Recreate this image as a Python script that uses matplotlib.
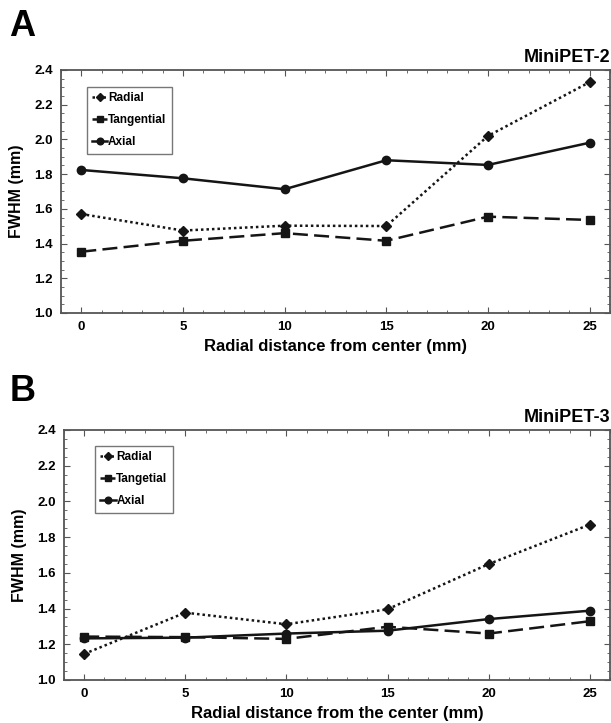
import numpy as np
import matplotlib
matplotlib.use("Agg")
import matplotlib.pyplot as plt
from matplotlib.ticker import MultipleLocator

plt.rcParams['font.family'] = ['Liberation Sans', 'DejaVu Sans']
plt.rcParams['font.weight'] = 'bold'

# radial distance (mm)
dist = [0, 5, 10, 15, 20, 25]

# MiniPET-2
radial2 = [1.57, 1.475, 1.503, 1.501, 2.02, 2.33]
tang2 = [1.353, 1.416, 1.46, 1.416, 1.555, 1.536]
axial2 = [1.824, 1.776, 1.713, 1.88, 1.853, 1.981]

# MiniPET-3
radial3 = [1.146, 1.377, 1.312, 1.396, 1.649, 1.87]
tang3 = [1.243, 1.24, 1.23, 1.298, 1.26, 1.329]
axial3 = [1.233, 1.237, 1.26, 1.276, 1.341, 1.388]

col = '#151515'

fig = plt.figure(figsize=(6.11, 7.23), dpi=100)
axA = fig.add_axes([0.0998, 0.5671, 0.8985, 0.3361])
axB = fig.add_axes([0.1047, 0.0595, 0.8936, 0.3458])


def panel(ax, r, t, a, tname, title, xlab, leg_anchor):
    ax.plot(dist, r, ls=(0, (1, 1.2)), lw=1.8, color=col, marker='D', ms=5, label='Radial')
    ax.plot(dist, t, ls=(0, (6, 2.5)), lw=1.8, color=col, marker='s', ms=6, label=tname)
    ax.plot(dist, a, ls='-', lw=1.8, color=col, marker='o', ms=6, label='Axial')
    ax.set_xlim(-1, 26)
    ax.set_ylim(1.0, 2.4)
    ax.xaxis.set_major_locator(MultipleLocator(5))
    ax.xaxis.set_minor_locator(MultipleLocator(1))
    ax.yaxis.set_major_locator(MultipleLocator(0.2))
    ax.yaxis.set_minor_locator(MultipleLocator(0.05))
    ax.yaxis.set_major_formatter(matplotlib.ticker.FormatStrFormatter('%.1f'))
    ax.tick_params(which='both', direction='in', top=True, right=True, color='#555555')
    ax.tick_params(which='major', length=4, labelsize=9.5, pad=6)
    ax.tick_params(which='minor', length=2)
    for s in ax.spines.values():
        s.set_color('#555555')
        s.set_linewidth(1.3)
    ax.set_ylabel('FWHM (mm)', fontsize=11.5, fontweight='bold', labelpad=7)
    ax.set_xlabel(xlab, fontsize=12, fontweight='bold', labelpad=4)
    ax.set_title(title, loc='right', fontsize=13, fontweight='bold', pad=6)
    leg = ax.legend(loc='upper left', bbox_to_anchor=leg_anchor, fontsize=8.5,
                    handlelength=1.3, handletextpad=0.05, labelspacing=0.85,
                    fancybox=False, borderpad=0.45, borderaxespad=0, framealpha=1,
                    markerscale=0.8)
    leg.get_frame().set_edgecolor('#777777')
    leg.get_frame().set_linewidth(1.0)


panel(axA, radial2, tang2, axial2, 'Tangential', 'MiniPET-2',
      'Radial distance from center (mm)', (0.047, 0.93))
panel(axB, radial3, tang3, axial3, 'Tangetial', 'MiniPET-3',
      'Radial distance from the center (mm)', (0.057, 0.936))

fig.text(0.015, 0.95, 'A', fontsize=26, fontweight='bold')
fig.text(0.015, 0.445, 'B', fontsize=26, fontweight='bold')

fig.savefig('out.png', dpi=100)
